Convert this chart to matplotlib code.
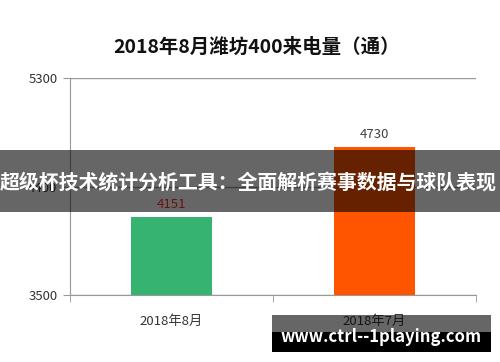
import matplotlib.pyplot as plt
from matplotlib.patches import Rectangle

plt.rcParams['font.family'] = ['Noto Sans CJK SC', 'DejaVu Sans']

# data
months = ['2018年8月', '2018年7月']
calls = [4151, 4730]
bar_colors = ['#36B370', '#FF5500']
y_ticks = [3500, 4400, 5300]

title = '2018年8月潍坊400来电量（通）'
banner = '超级杯技术统计分析工具：全面解析赛事数据与球队表现'
site = 'www.ctrl--1playing.com'

fig = plt.figure(figsize=(5, 3.62), dpi=100)
ax = fig.add_axes([0.14, 0.185, 0.812, 0.5995])

x = range(len(months))
ax.bar(x, calls, width=0.4, color=bar_colors, zorder=3)
for i, v in enumerate(calls):
    col = '#404040' if i == 1 else '#ff3030'
    ax.text(i, v + 45, str(v), ha='center', va='bottom', fontsize=9.5, color=col, zorder=4)

ax.set_xlim(-0.5, 1.5)
ax.set_ylim(3500, 5300)
ax.set_yticks(y_ticks)
ax.set_yticklabels([str(t) for t in y_ticks], fontsize=9.5, color='#333333')
ax.yaxis.grid(True, color='#999999', linewidth=1, zorder=0)
ax.set_xticks(list(x))
ax.set_xticklabels(months, fontsize=9.5, color='#333333')
ax.set_xticks([-0.5, 0.5, 1.5], minor=True)
ax.tick_params(axis='x', which='major', length=0, pad=14)
ax.tick_params(axis='x', which='minor', length=5, color='#999999')
ax.tick_params(axis='y', length=5, color='#999999', pad=4)
for s in ['top', 'right']:
    ax.spines[s].set_visible(False)
for s in ['left', 'bottom']:
    ax.spines[s].set_color('#999999')

fig.text(0.514, 1 - 47 / 362, title, ha='center', va='center', fontsize=14, fontweight='bold', color='#111111')

# overlay banner
fig.patches.append(Rectangle((0, 1 - 212 / 362), 1, 62 / 362, transform=fig.transFigure,
                             facecolor='black', alpha=0.6, zorder=10))
fig.text(0.497, 1 - 182 / 362, banner, ha='center', va='center', fontsize=14.3,
         fontweight='bold', color='white', zorder=11)

# watermark
fig.patches.append(Rectangle((272 / 500, 1 - 332 / 362), 219 / 500, 17 / 362, transform=fig.transFigure,
                             facecolor='black', alpha=0.6, zorder=10))
fig.patches.append(Rectangle((272 / 500, 1 - 352 / 362), 219 / 500, 20 / 362, transform=fig.transFigure,
                             facecolor='black', zorder=10))
fig.text(381 / 500, 1 - 337 / 362, site, ha='center', va='center', fontsize=12,
         fontweight='bold', color='white', zorder=11)

fig.savefig('out.png', dpi=100)
